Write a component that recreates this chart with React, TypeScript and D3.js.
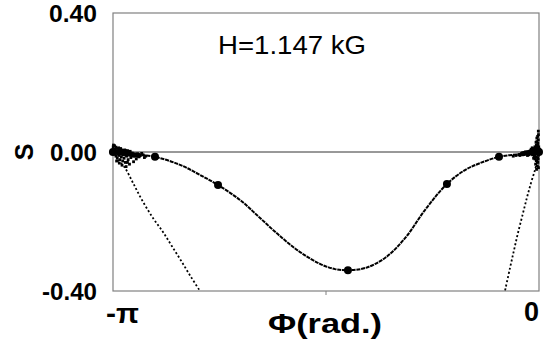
import React from "react";
import * as d3 from "d3";

const W = 546;
const H = 341;

// Axis domain / tick labels
const phiDomain: [number, number] = [-Math.PI, 0];
const sDomain: [number, number] = [-0.4, 0.4];
const yTicks = [
  { v: 0.4, label: "0.40" },
  { v: 0.0, label: "0.00" },
  { v: -0.4, label: "-0.40" },
];
const xTickLabels = [
  { v: -Math.PI, label: "-π" },
  { v: 0, label: "0" },
];
const xMinorTicks = [-Math.PI / 2];
const annotation = "H=1.147 kG";

// Main curve (phi, s)
const mainPhi = [-3.142, -3.016, -2.832, -2.647, -2.5, -2.367, -2.205, -2.057, -1.91, -1.762, -1.615, -1.504, -1.409, -1.283, -1.136, -0.988, -0.841, -0.679, -0.546, -0.435, -0.295, -0.14, 0];
const mainS = [0, -0.006, -0.014, -0.037, -0.066, -0.095, -0.138, -0.19, -0.242, -0.288, -0.322, -0.337, -0.34, -0.334, -0.305, -0.248, -0.167, -0.092, -0.052, -0.032, -0.014, -0.006, 0];

// Marked fixed points
const markPhi = [-3.142, -2.832, -2.367, -1.409, -0.679, -0.295, 0];
const markS = [0, -0.014, -0.095, -0.34, -0.092, -0.014, 0];

// Steep branch near -pi
const leftPhi = [-3.105, -3.053, -2.994, -2.928, -2.847, -2.773, -2.707, -2.633, -2.566, -2.5];
const leftS = [-0.023, -0.046, -0.089, -0.138, -0.19, -0.23, -0.271, -0.317, -0.36, -0.4];

// Steep branch near 0
const rightPhi = [-0.015, -0.03, -0.059, -0.088, -0.118, -0.155, -0.184, -0.214, -0.251];
const rightS = [-0.029, -0.052, -0.089, -0.13, -0.176, -0.233, -0.282, -0.334, -0.4];

// Scatter clusters near the endpoints
const clusterLeft: [number, number][] = [
  [-3.14, 0.015], [-3.13, 0.008], [-3.12, 0.003], [-3.11, 0.01], [-3.1, 0.004], [-3.09, 0.0], [-3.08, 0.006],
  [-3.07, -0.002], [-3.06, 0.002], [-3.05, -0.004], [-3.04, 0.0], [-3.02, -0.006], [-3.0, -0.003], [-2.98, -0.008],
  [-2.96, -0.005], [-2.94, -0.01], [-2.92, -0.008], [-2.9, -0.012], [-3.13, -0.006], [-3.12, -0.012], [-3.11, -0.018],
  [-3.1, -0.01], [-3.09, -0.022], [-3.08, -0.014], [-3.07, -0.026], [-3.06, -0.018], [-3.05, -0.03], [-3.04, -0.012],
  [-3.03, -0.022], [-3.02, -0.035], [-3.01, -0.016], [-2.99, -0.028], [-2.97, -0.02], [-3.135, 0.006], [-3.125, -0.002],
  [-3.115, 0.0], [-3.105, -0.005], [-3.095, 0.008], [-3.085, -0.004], [-3.075, 0.004], [-3.065, -0.008], [-3.055, 0.006],
  [-3.045, -0.01], [-3.035, 0.004], [-3.025, -0.002], [-3.015, 0.002], [-3.14, -0.004], [-3.14, 0.008], [-3.138, 0.02], [-3.13, 0.018],
  [-3.1, -0.002], [-3.09, 0.004], [-3.08, -0.006], [-3.07, 0.005], [-3.06, -0.004], [-3.05, 0.004], [-3.03, 0.002],
  [-3.01, -0.008], [-2.99, -0.012], [-2.95, -0.014], [-2.93, -0.004], [-2.91, -0.016], [-3.115, -0.026], [-3.095, -0.032],
  [-3.075, -0.038], [-3.045, -0.042], [-3.035, -0.03], [-3.12, 0.014], [-3.1, 0.012], [-3.085, 0.01],
];
const clusterRight: [number, number][] = [
  [-0.005, 0.06], [-0.01, 0.045], [-0.005, 0.035], [-0.015, 0.03], [-0.008, 0.025], [-0.02, 0.02], [-0.012, 0.015],
  [-0.03, 0.015], [-0.025, 0.008], [-0.04, 0.01], [-0.05, 0.006], [-0.06, 0.004], [-0.07, 0.002], [-0.08, 0.0],
  [-0.09, -0.002], [-0.1, -0.004], [-0.11, -0.003], [-0.12, -0.006], [-0.13, -0.005], [-0.15, -0.008], [-0.17, -0.01],
  [-0.19, -0.012], [-0.005, 0.005], [-0.01, 0.0], [-0.015, -0.005], [-0.02, 0.004], [-0.025, -0.003], [-0.03, 0.002],
  [-0.035, -0.006], [-0.04, -0.002], [-0.045, 0.003], [-0.055, -0.004], [-0.065, -0.006], [-0.075, -0.008], [-0.085, -0.01],
  [-0.005, -0.01], [-0.01, -0.018], [-0.015, -0.025], [-0.008, -0.03], [-0.02, -0.015], [-0.025, -0.035], [-0.03, -0.02],
  [-0.012, -0.04], [-0.035, -0.012], [-0.04, -0.018], [-0.002, 0.015], [-0.003, -0.005], [-0.05, 0.012], [-0.06, 0.0],
  [-0.07, -0.004], [-0.1, 0.0], [-0.14, -0.01],
  [-0.004, 0.05], [-0.018, 0.01], [-0.028, -0.01], [-0.038, 0.006], [-0.048, -0.008], [-0.058, 0.008], [-0.068, -0.002],
  [-0.01, 0.02], [-0.02, -0.025], [-0.006, -0.02], [-0.016, 0.04], [-0.022, 0.028], [-0.004, -0.045], [-0.018, -0.05],
];

// Dense cores of the clusters (drawn as thick strokes)
const coreLeftPhi = [-3.14, -3.08, -3.02, -2.95];
const coreLeftS = [0.0, -0.003, -0.006, -0.01];
const coreRightPhi = [-0.12, -0.06, -0.02, 0];
const coreRightS = [-0.005, 0.0, 0.004, 0.006];

export default function App() {
  const margin = { left: 113, right: W - 539, top: 13, bottom: H - 291 };
  const x = d3.scaleLinear().domain(phiDomain).range([margin.left, W - margin.right]);
  const y = d3.scaleLinear().domain(sDomain).range([H - margin.bottom, margin.top]);

  const line = d3
    .line<[number, number]>()
    .x((d) => x(d[0]))
    .y((d) => y(d[1]))
    .curve(d3.curveCatmullRom.alpha(0.5));

  const zip = (a: number[], b: number[]) => a.map((v, i) => [v, b[i]] as [number, number]);
  const mainPts = zip(mainPhi, mainS);
  const leftPts = zip(leftPhi, leftS);
  const rightPts = zip(rightPhi, rightS);
  const marks = zip(markPhi, markS);

  const font = "'Liberation Sans', Arial, Helvetica, sans-serif";
  const yLabelLen: Record<string, number> = { "0.40": 48, "0.00": 47, "-0.40": 55 };

  return (
    <svg width={W} height={H} style={{ position: "absolute", left: 0, top: 0, background: "#fff" }}>
      <rect x={0} y={0} width={W} height={H} fill="#fff" />
      {/* frame */}
      <rect
        x={x(phiDomain[0])}
        y={y(sDomain[1])}
        width={x(phiDomain[1]) - x(phiDomain[0])}
        height={y(sDomain[0]) - y(sDomain[1])}
        fill="none"
        stroke="#808080"
        strokeWidth={1.2}
      />
      {xMinorTicks.map((t) => (
        <line key={t} x1={x(t)} x2={x(t)} y1={y(sDomain[0])} y2={y(sDomain[0]) + 4} stroke="#808080" />
      ))}
      {/* zero line */}
      <line x1={x(phiDomain[0])} x2={x(phiDomain[1])} y1={y(0)} y2={y(0)} stroke="#333" strokeWidth={1} />

      {/* curves */}
      <path d={line(mainPts) || ""} fill="none" stroke="#000" strokeWidth={2} strokeDasharray="4 0.8" />
      <path d={line(leftPts) || ""} fill="none" stroke="#000" strokeWidth={1.8} strokeDasharray="2 2.2" />
      <path d={line(rightPts) || ""} fill="none" stroke="#000" strokeWidth={1.8} strokeDasharray="2 2.2" />

      <path d={line(zip(coreLeftPhi, coreLeftS)) || ""} fill="none" stroke="#000" strokeWidth={5} strokeLinecap="round" />
      <path d={line(zip(coreRightPhi, coreRightS)) || ""} fill="none" stroke="#000" strokeWidth={5} strokeLinecap="round" />

      {clusterLeft.concat(clusterRight).map((d, i) => (
        <rect key={i} x={x(d[0]) - 1.4} y={y(d[1]) - 1.4} width={2.8} height={2.8} fill="#000" />
      ))}

      {marks.map((d, i) => (
        <circle key={i} cx={x(d[0])} cy={y(d[1])} r={4} fill="#000" />
      ))}

      {/* y tick labels */}
      {yTicks.map((t) => (
        <text
          key={t.label}
          x={97}
          y={y(t.v) + 9}
          textAnchor="end"
          fontFamily={font}
          fontWeight="bold"
          fontSize={23}
          textLength={yLabelLen[t.label]}
          lengthAdjust="spacingAndGlyphs"
          fill="#000"
        >
          {t.label}
        </text>
      ))}
      <text
        transform={`translate(33,${y(0)}) rotate(-90)`}
        textAnchor="middle"
        fontFamily={font}
        fontWeight="bold"
        fontSize={25}
        fill="#000"
      >
        S
      </text>

      {/* x labels */}
      <text x={x(xTickLabels[0].v) - 7} y={323} fontFamily={font} fontWeight="bold" fontSize={27} textLength={33} lengthAdjust="spacingAndGlyphs" fill="#000">
        {xTickLabels[0].label}
      </text>
      <text x={x(xTickLabels[1].v)} y={321} textAnchor="end" fontFamily={font} fontWeight="bold" fontSize={27} fill="#000">
        {xTickLabels[1].label}
      </text>
      <text x={268} y={333} fontFamily={font} fontWeight="bold" fontSize={28} textLength={114} lengthAdjust="spacingAndGlyphs" fill="#000">
        Φ(rad.)
      </text>

      <text x={218} y={54} fontFamily={font} fontSize={25} textLength={148} lengthAdjust="spacingAndGlyphs" fill="#000">
        {annotation}
      </text>
    </svg>
  );
}
